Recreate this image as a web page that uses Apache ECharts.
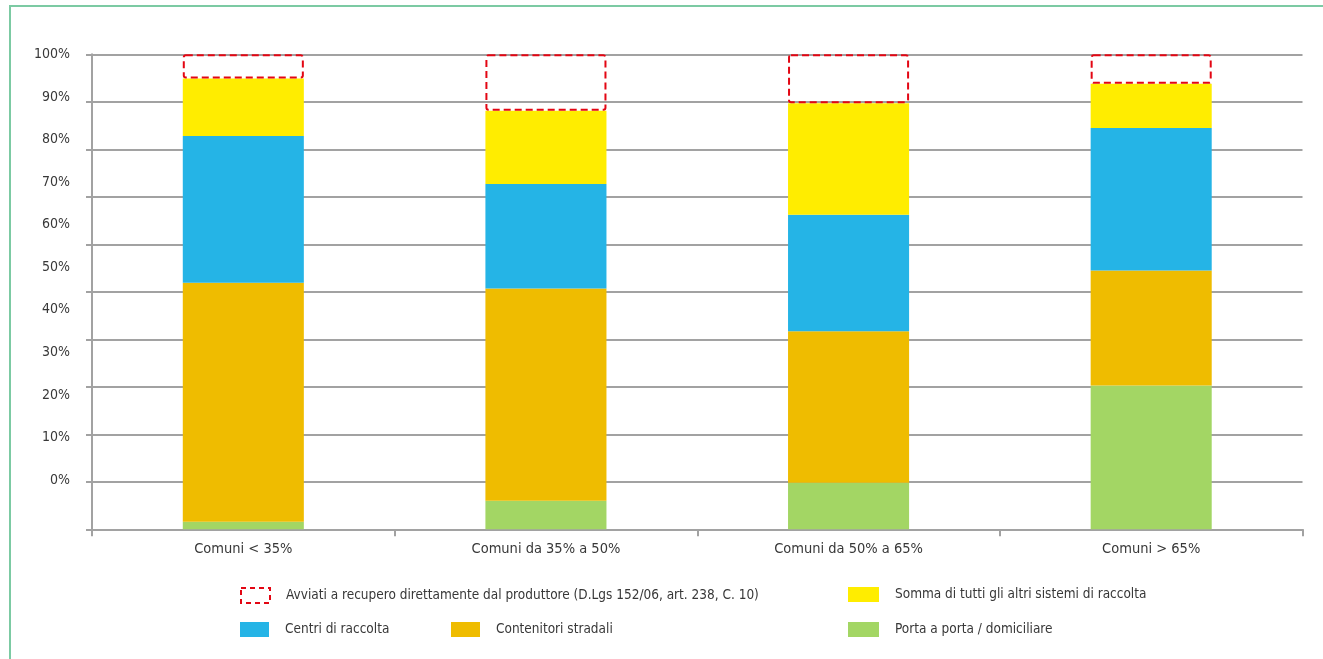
<!DOCTYPE html>
<html>
<head>
<meta charset="utf-8">
<script src="https://cdn.jsdelivr.net/npm/echarts@6/dist/echarts.min.js"></script>
<style>
  html, body { margin: 0; padding: 0; background: #fff; }
  #chart { position: absolute; left: 0; top: 0; width: 1323px; height: 659px; }
  #frame { position: absolute; left: 9px; top: 5px; right: 0; bottom: 0;
           border-top: 2px solid #7ccaa3; border-left: 2px solid #7ccaa3; pointer-events: none; }
</style>
</head>
<body>
<div id="chart"></div>
<div id="frame"></div>
<script>
// ---- data ----
const categories = ['Comuni < 35%', 'Comuni da 35% a 50%', 'Comuni da 50% a 65%', 'Comuni > 65%'];
const portaAPorta = [1.6, 6.0, 9.8, 30.3];
const contenitoriStradali = [50.3, 44.7, 31.9, 24.2];
const centriDiRaccolta = [30.9, 22.0, 24.5, 30.0];
const sommaAltriSistemi = [12.1, 15.4, 23.5, 9.3];
const avviatiRecupero = [5.1, 11.9, 10.3, 6.2];
const yLabelValues = [0, 10, 20, 30, 40, 50, 60, 70, 80, 90, 100];

const names = {
  avviati: 'Avviati a recupero direttamente dal produttore (D.Lgs 152/06, art. 238, C. 10)',
  somma: 'Somma di tutti gli altri sistemi di raccolta',
  centri: 'Centri di raccolta',
  contenitori: 'Contenitori stradali',
  porta: 'Porta a porta / domiciliare'
};
const colors = {
  porta: '#a3d664', contenitori: '#efbc00', centri: '#25b4e6', somma: '#ffed00', red: '#e30613'
};

const FONT = "'DejaVu Sans Condensed', 'Liberation Sans Narrow', 'DejaVu Sans', sans-serif";
const TXT = '#383838';
const GRIDC = '#a2a2a2';

const chart = echarts.init(document.getElementById('chart'), null, { renderer: 'canvas' });

function legend(name, left, top, iconW, itemStyle) {
  return {
    show: true, orient: 'horizontal', left: left, top: top, padding: 0,
    itemWidth: iconW, itemHeight: 15, selectedMode: false,
    data: [{ name: name, icon: 'rect', itemStyle: itemStyle }],
    textStyle: { fontFamily: FONT, fontSize: 13.5, color: TXT, padding: [0, 0, 0, 11] }
  };
}

const barW = '40%';
function barSeries(name, data, color) {
  return {
    name: name, type: 'bar', stack: 'total', data: data, barWidth: barW,
    itemStyle: { color: color }, emphasis: { disabled: true }, animation: false
  };
}

chart.setOption({
  animation: false,
  textStyle: { fontFamily: FONT },
  grid: { left: 92, right: 20.5, top: 54.3, bottom: 129.7, containLabel: false },
  xAxis: {
    type: 'category', data: categories, boundaryGap: true,
    axisLine: { show: true, lineStyle: { color: GRIDC, width: 2 } },
    axisTick: { show: true, length: 7, lineStyle: { color: GRIDC, width: 2 } },
    axisLabel: { margin: 12, fontFamily: FONT, fontSize: 14.5, color: TXT }
  },
  yAxis: [
    {
      type: 'value', min: 0, max: 100, interval: 10, position: 'left',
      axisLine: { show: true, lineStyle: { color: GRIDC, width: 2 } },
      axisTick: { show: true, length: 6, lineStyle: { color: GRIDC, width: 2 } },
      splitLine: { show: true, lineStyle: { color: GRIDC, width: 2 } },
      axisLabel: { show: false }
    },
    {
      type: 'value', min: -11.58, max: 100, position: 'left',
      axisLine: { show: false }, axisTick: { show: false }, splitLine: { show: false },
      axisLabel: {
        show: true, customValues: yLabelValues, margin: 22,
        fontFamily: FONT, fontSize: 14, color: TXT,
        formatter: v => v + '%'
      }
    }
  ],
  legend: [
    legend(names.avviati, 240, 587, 29, { color: 'rgba(0,0,0,0)', borderColor: colors.red, borderWidth: 2, borderType: [5, 4] }),
    legend(names.somma, 848, 587, 31, { color: colors.somma }),
    legend(names.centri, 240, 622, 29, { color: colors.centri }),
    legend(names.contenitori, 451, 622, 29, { color: colors.contenitori }),
    legend(names.porta, 848, 622, 31, { color: colors.porta })
  ],
  series: [
    barSeries(names.porta, portaAPorta, colors.porta),
    barSeries(names.contenitori, contenitoriStradali, colors.contenitori),
    barSeries(names.centri, centriDiRaccolta, colors.centri),
    barSeries(names.somma, sommaAltriSistemi, colors.somma),
    {
      name: names.avviati, type: 'bar', stack: 'total', data: avviatiRecupero, barWidth: barW,
      itemStyle: { color: 'rgba(0,0,0,0)', borderColor: colors.red, borderWidth: 2, borderType: [7, 4], borderRadius: 2 },
      emphasis: { disabled: true }, animation: false
    }
  ]
});
</script>
</body>
</html>
